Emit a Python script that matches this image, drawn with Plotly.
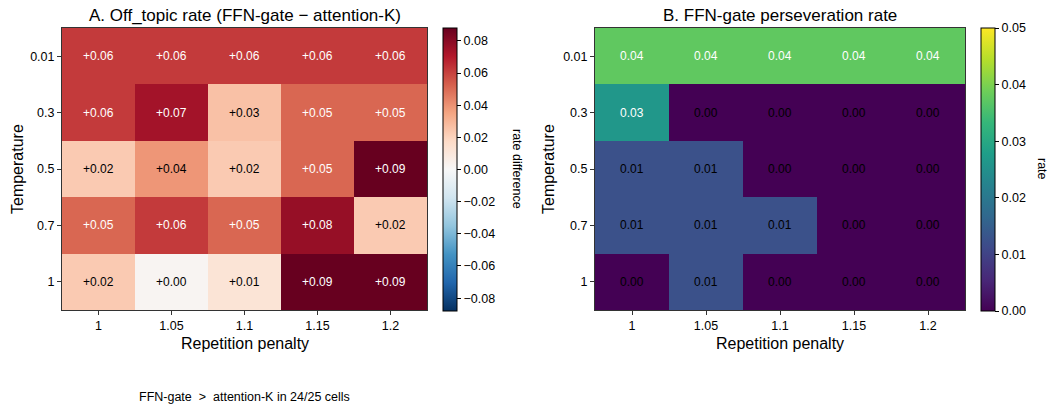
import plotly.graph_objects as go

rep_penalty = ["1", "1.05", "1.1", "1.15", "1.2"]
temperature = ["0.01", "0.3", "0.5", "0.7", "1"]

# Panel A: off_topic rate difference (FFN-gate - attention-K), rows = temperature
offtopic_diff = [
    [0.062, 0.062, 0.062, 0.062, 0.062],
    [0.062, 0.074, 0.026, 0.051, 0.051],
    [0.023, 0.039, 0.023, 0.051, 0.088],
    [0.051, 0.062, 0.051, 0.077, 0.023],
    [0.023, 0.002, 0.012, 0.088, 0.088],
]

# Panel B: FFN-gate perseveration rate
persev_rate = [
    [0.0375, 0.0375, 0.0375, 0.0375, 0.0375],
    [0.0263, 0.0, 0.0, 0.0, 0.0],
    [0.0125, 0.0125, 0.0, 0.0, 0.0],
    [0.0125, 0.0125, 0.0125, 0.0, 0.0],
    [0.0, 0.0125, 0.0, 0.0, 0.0],
]

footer_text = "FFN-gate\u00a0\u00a0>\u00a0\u00a0attention-K in 24/25 cells"

FONT = "Liberation Sans, Arial, Helvetica, sans-serif"
W, H = 1049, 406

rdbu_r = [
    [0.0, "rgb(5,48,97)"], [0.1, "rgb(33,102,172)"], [0.2, "rgb(67,147,195)"],
    [0.3, "rgb(146,197,222)"], [0.4, "rgb(209,229,240)"], [0.5, "rgb(247,247,247)"],
    [0.6, "rgb(253,219,199)"], [0.7, "rgb(244,165,130)"], [0.8, "rgb(214,96,77)"],
    [0.9, "rgb(178,24,43)"], [1.0, "rgb(103,0,31)"],
]

def px(x):
    return x / W

def py(y):
    return 1 - y / H

top, bottom = 28, 310
A_x0, A_x1 = 62, 427
B_x0, B_x1 = 595, 965

fig = go.Figure()

zA = 0.088
cb_common = dict(
    xanchor="left", xpad=0, ypad=0,
    y=py(top), yanchor="top", len=(bottom - top + 1) / H, lenmode="fraction",
    thickness=14, thicknessmode="pixels",
    outlinewidth=1, outlinecolor="black",
    tickformat=".2f", ticks="outside", ticklen=4, tickcolor="black",
    tickfont=dict(family=FONT, size=12.5, color="black"),
)

fig.add_trace(go.Heatmap(
    z=offtopic_diff, x=rep_penalty, y=temperature,
    colorscale=rdbu_r, zmin=-zA, zmax=zA,
    xaxis="x", yaxis="y", hoverinfo="skip",
    colorbar=dict(x=px(443), tickvals=[-0.08, -0.06, -0.04, -0.02, 0, 0.02, 0.04, 0.06, 0.08], **cb_common),
))

fig.add_trace(go.Heatmap(
    z=persev_rate, x=rep_penalty, y=temperature,
    colorscale="Viridis", zmin=0, zmax=0.05,
    xaxis="x2", yaxis="y2", hoverinfo="skip",
    colorbar=dict(x=px(981), tickvals=[0, 0.01, 0.02, 0.03, 0.04, 0.05], **cb_common),
))

annotations = []
for i, t in enumerate(temperature):
    for j, r in enumerate(rep_penalty):
        v = offtopic_diff[i][j]
        annotations.append(dict(
            x=j, y=i, xref="x", yref="y", text=f"+{v:.2f}", showarrow=False,
            xanchor="center", yanchor="middle",
            font=dict(family=FONT, size=12, color="white" if abs(v) > zA / 2 else "black"),
        ))
        v2 = persev_rate[i][j]
        annotations.append(dict(
            x=j, y=i, xref="x2", yref="y2", text=f"{v2:.2f}", showarrow=False,
            xanchor="center", yanchor="middle",
            font=dict(family=FONT, size=12, color="white" if v2 > 0.025 else "black"),
        ))

def txt(x, y, text, size, angle=0, xanchor="center"):
    return dict(x=px(x), y=py(y), xref="paper", yref="paper", text=text,
                textangle=angle, showarrow=False, xanchor=xanchor, yanchor="middle",
                font=dict(family=FONT, size=size, color="black"))

annotations += [
    txt((A_x0 + A_x1) / 2, 15, "A. Off_topic rate (FFN-gate − attention-K)", 17),
    txt((B_x0 + B_x1) / 2, 15, "B. FFN-gate perseveration rate", 17),
    txt((A_x0 + A_x1) / 2, 343, "Repetition penalty", 16),
    txt((B_x0 + B_x1) / 2, 343, "Repetition penalty", 16),
    txt(17, 169, "Temperature", 16, angle=-90),
    txt(548, 169, "Temperature", 16, angle=-90),
    txt(517, 169, "rate difference", 12.5, angle=90),
    txt(1042, 169, "rate", 12.5, angle=90),
    txt(137, 397, footer_text, 12.5, xanchor="left"),
]

axis_common = dict(
    showline=True, linecolor="#333333", linewidth=1, mirror=True,
    ticks="outside", ticklen=4, tickcolor="#333333",
    tickfont=dict(family=FONT, size=12.5, color="black"),
    showgrid=False, zeroline=False, type="category",
)

fig.update_layout(
    width=W, height=H,
    margin=dict(l=0, r=0, t=0, b=0),
    paper_bgcolor="white", plot_bgcolor="white",
    showlegend=False,
    annotations=annotations,
    xaxis=dict(domain=[px(A_x0), px(A_x1)], anchor="y", **axis_common),
    yaxis=dict(domain=[py(bottom), py(top)], anchor="x", autorange="reversed", **axis_common),
    xaxis2=dict(domain=[px(B_x0), px(B_x1)], anchor="y2", **axis_common),
    yaxis2=dict(domain=[py(bottom), py(top)], anchor="x2", autorange="reversed", **axis_common),
)

fig.write_html("out.html")
